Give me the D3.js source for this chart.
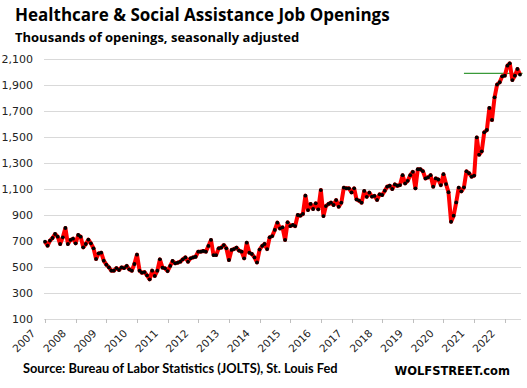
<!DOCTYPE html>
<html>
<head>
<meta charset="utf-8">
<script src="https://cdn.jsdelivr.net/npm/d3@7"></script>
<style>
    body { margin: 0; background: #fff; }
    svg { display: block; }
    .grid line { stroke: #d9d9d9; stroke-width: 1; }
    .ylab { font: 11px "DejaVu Sans", sans-serif; fill: #222; }
    .xlab { font: 10.5px "DejaVu Sans", sans-serif; fill: #222; }
    .title { font: bold 17px "Open Sans", sans-serif; fill: #000; }
    .subtitle { font: bold 13px "Open Sans", sans-serif; fill: #000; }
    .source { font: bold 12.8px Lato, sans-serif; fill: #000; }
    .brand { font: bold 11.5px "DejaVu Sans", sans-serif; fill: #000; }
</style>
</head>
<body>
<div id="chart"></div>
<script>
// 月度数据：2007年1月起，千个职位空缺
const firstMonth = '2007-01';
const openings = [
    695, 664, 703, 723, 754, 733, 677, 728, 800, 677, 708, 718,
    682, 746, 733, 651, 677, 710, 682, 644, 562, 605, 610, 549,
    518, 497, 472, 472, 492, 477, 497, 492, 508, 482, 472, 523,
    595, 472, 456, 461, 435, 405, 472, 431, 472, 559, 495, 490,
    469, 508, 546, 528, 533, 541, 559, 574, 541, 567, 574, 579,
    618, 618, 623, 618, 662, 708, 592, 592, 644, 649, 669, 644,
    554, 631, 638, 649, 626, 618, 567, 687, 610, 600, 574, 535,
    634, 662, 677, 638, 728, 738, 785, 841, 797, 805, 708, 844,
    815, 823, 815, 900, 895, 908, 1049, 938, 985, 946, 990, 944,
    1092, 892, 969, 985, 995, 977, 1015, 964, 995, 1110, 1105, 1105,
    1074, 1105, 1020, 1010, 995, 1085, 1040, 1072, 1042, 1047, 1016, 1059,
    1054, 1087, 1118, 1125, 1100, 1135, 1125, 1130, 1206, 1143, 1163, 1206,
    1232, 1105, 1252, 1252, 1237, 1181, 1189, 1206, 1118, 1181, 1173, 1130,
    1214, 1138, 1075, 848, 895, 997, 1110, 1082, 1113, 1236, 1221, 1195,
    1203, 1497, 1364, 1390, 1536, 1554, 1723, 1631, 1805, 1903, 1921, 1967,
    1972, 2049, 2067, 1938, 1972, 2023, 1980
];
const yTicks = [100, 300, 500, 700, 900, 1100, 1300, 1500, 1700, 1900, 2100];
const yearLabels = ['2007', '2008', '2009', '2010', '2011', '2012', '2013', '2014',
    '2015', '2016', '2017', '2018', '2019', '2020', '2021', '2022'];
const refLevel = 1990;
const refPeriod = ['2020-09', '2022-08'];

const width = 527, height = 388;
const parseMonth = d3.timeParse('%Y-%m');
const start = parseMonth(firstMonth);
const series = openings.map((v, i) => ({ date: d3.timeMonth.offset(start, i), value: v }));

const svg = d3.select('#chart').append('svg')
    .attr('width', width)
    .attr('height', height);

const x = d3.scaleTime()
    .domain([start, series[series.length - 1].date])
    .range([45, 520]);

const y = d3.scaleLinear()
    .domain([100, 2100])
    .range([319, 59]);

// 网格线
const gridLeft = 44, gridRight = 521;
svg.append('g').attr('class', 'grid')
    .selectAll('line')
    .data(yTicks)
    .enter().append('line')
    .attr('x1', gridLeft).attr('x2', gridRight)
    .attr('y1', d => Math.round(y(d)) + 0.5)
    .attr('y2', d => Math.round(y(d)) + 0.5);

// 纵轴标签
svg.append('g')
    .selectAll('text')
    .data(yTicks)
    .enter().append('text')
    .attr('class', 'ylab')
    .attr('x', 33)
    .attr('y', d => y(d))
    .attr('dy', '0.36em')
    .attr('text-anchor', 'end')
    .text(d3.format(','));

// 横轴刻度与标签
const years = yearLabels.map(s => parseMonth(s + '-01'));
svg.append('g')
    .selectAll('line')
    .data(years)
    .enter().append('line')
    .attr('x1', d => Math.round(x(d)) + 0.5)
    .attr('x2', d => Math.round(x(d)) + 0.5)
    .attr('y1', y(100))
    .attr('y2', y(100) + 4)
    .attr('stroke', '#bfbfbf');

svg.append('g')
    .selectAll('text')
    .data(years)
    .enter().append('text')
    .attr('class', 'xlab')
    .attr('text-anchor', 'end')
    .attr('transform', d => `translate(${x(d) - 9},${y(100) + 15}) rotate(-45)`)
    .text((d, i) => yearLabels[i]);

// 参考线
svg.append('line')
    .attr('x1', x(parseMonth(refPeriod[0])))
    .attr('x2', x(parseMonth(refPeriod[1])))
    .attr('y1', y(refLevel))
    .attr('y2', y(refLevel))
    .attr('stroke', '#3a9a3a')
    .attr('stroke-width', 1.2);

// 折线
const line = d3.line()
    .x(d => x(d.date))
    .y(d => y(d.value));

svg.append('path')
    .datum(series)
    .attr('fill', 'none')
    .attr('stroke', '#ff0000')
    .attr('stroke-width', 4)
    .attr('stroke-linejoin', 'round')
    .attr('d', line);

svg.append('g')
    .selectAll('circle')
    .data(series)
    .enter().append('circle')
    .attr('cx', d => x(d.date))
    .attr('cy', d => y(d.value))
    .attr('r', 1.9)
    .attr('fill', '#000');

// 标题
svg.append('text').attr('class', 'title')
    .attr('x', 15).attr('y', 21)
    .text('Healthcare & Social Assistance Job Openings');
svg.append('text').attr('class', 'subtitle')
    .attr('x', 15).attr('y', 42)
    .text('Thousands of openings, seasonally adjusted');

svg.append('text').attr('class', 'source')
    .attr('x', 23).attr('y', 373)
    .text('Source: Bureau of Labor Statistics (JOLTS), St. Louis Fed');
svg.append('text').attr('class', 'brand')
    .attr('x', 510).attr('y', 375)
    .attr('text-anchor', 'end')
    .text('WOLFSTREET.com');
</script>
</body>
</html>
